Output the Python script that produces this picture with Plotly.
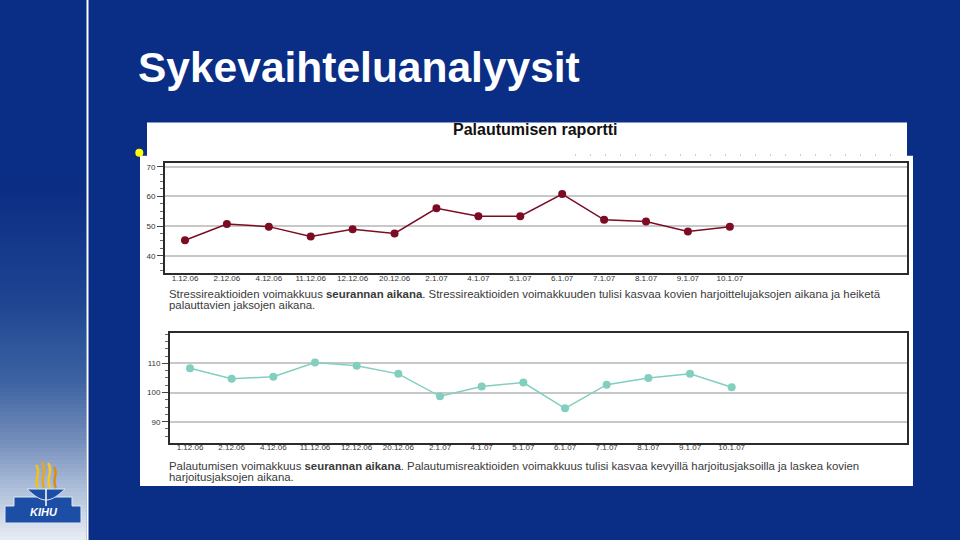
import plotly.graph_objects as go
import math

# ---------------- data ----------------
dates = ["1.12.06", "2.12.06", "4.12.06", "11.12.06", "12.12.06", "20.12.06", "2.1.07",
         "4.1.07", "5.1.07", "6.1.07", "7.1.07", "8.1.07", "9.1.07", "10.1.07"]
stress = [45.2, 50.7, 49.8, 46.5, 48.9, 47.5, 56.0, 53.3, 53.3, 60.8, 52.1, 51.5, 48.2, 49.8]
recovery = [108.3, 104.7, 105.4, 110.3, 109.2, 106.4, 98.7, 102.1, 103.4, 94.6, 102.7, 105.0, 106.4, 101.8]
stress_ticks = [40, 50, 60, 70]
recovery_ticks = [90, 100, 110]

slide_title = "Sykevaihteluanalyysit"
report_title = "Palautumisen raportti"
caption1 = ["Stressireaktioiden voimakkuus <b>seurannan aikana</b>. Stressireaktioiden voimakkuuden tulisi kasvaa kovien harjoittelujaksojen aikana ja heiketä",
            "palauttavien jaksojen aikana."]
caption2 = ["Palautumisen voimakkuus <b>seurannan aikana</b>. Palautumisreaktioiden voimakkuus tulisi kasvaa kevyillä harjoitusjaksoilla ja laskea kovien",
            "harjoitusjaksojen aikana."]

# ---------------- helpers ----------------
W, H = 960, 540
def fx(p):
    return p / W
def fy(p):
    return 1 - p / H

BG = "#0a2d86"
FONT = "Liberation Sans, Arial, sans-serif"

fig = go.Figure()

fig.add_trace(go.Scatter(x=dates, y=stress, mode="lines+markers",
                         line=dict(color="#7b0c24", width=1.5),
                         marker=dict(color="#7b0c24", size=8),
                         xaxis="x", yaxis="y", showlegend=False))
fig.add_trace(go.Scatter(x=dates, y=recovery, mode="lines+markers",
                         line=dict(color="#82cfc0", width=1.5),
                         marker=dict(color="#82cfc0", size=8),
                         xaxis="x2", yaxis="y2", showlegend=False))

shapes = []

# left gradient strip
stops = [(0, (10, 45, 134)), (190, (12, 45, 132)), (300, (30, 68, 146)), (380, (60, 98, 162)),
         (440, (115, 140, 186)), (490, (175, 192, 218)), (540, (232, 237, 244))]
def col_at(y):
    for (y0, c0), (y1, c1) in zip(stops[:-1], stops[1:]):
        if y0 <= y <= y1:
            t = (y - y0) / (y1 - y0)
            return "rgb(%d,%d,%d)" % tuple(round(a + (b - a) * t) for a, b in zip(c0, c1))
    return "rgb(%d,%d,%d)" % stops[-1][1]
step = 4
yy = 180
while yy < 540:
    shapes.append(dict(type="rect", xref="paper", yref="paper", x0=fx(0), x1=fx(86.5),
                       y0=fy(yy + step + 0.5), y1=fy(yy), fillcolor=col_at(yy + step / 2),
                       line=dict(width=0), layer="below"))
    yy += step
# white divider line
shapes.append(dict(type="line", xref="paper", yref="paper", x0=fx(87.5), x1=fx(87.5),
                   y0=fy(0), y1=fy(540), line=dict(color="white", width=2), layer="below"))

# logo (approximation)
def path(pts, close=True):
    s = "M " + " L ".join("%f,%f" % (fx(a), fy(b)) for a, b in pts)
    return s + (" Z" if close else "")
plat = [(5, 523), (5, 506), (14, 506), (14, 497), (72, 497), (72, 506), (81, 506), (81, 523)]
shapes.append(dict(type="path", xref="paper", yref="paper", path=path(plat),
                   fillcolor="#1d4ea5", line=dict(color="#dfe8f5", width=1), layer="below"))
bowl = [(27 + 38 * i / 20, 489 + 11 * math.sin(math.pi * i / 20)) for i in range(21)]
shapes.append(dict(type="path", xref="paper", yref="paper", path=path(bowl),
                   fillcolor="#1d4ea5", line=dict(color="#dfe8f5", width=1), layer="below"))
shapes.append(dict(type="line", xref="paper", yref="paper", x0=fx(46), x1=fx(46), y0=fy(506), y1=fy(489),
                   line=dict(color="white", width=1.5), layer="below"))
flames = [
    ([(38, 488), (33, 480), (42, 472), (36, 465)], "#f2c21a"),
    ([(44, 488), (39, 479), (48, 471), (42, 462)], "#e9a51b"),
    ([(50, 488), (45, 479), (54, 471), (48, 463)], "#f4c829"),
    ([(56, 488), (51, 480), (59, 473), (54, 467)], "#d98d17"),
]
for pts, c in flames:
    p = "M %f,%f C %f,%f %f,%f %f,%f" % (fx(pts[0][0]), fy(pts[0][1]), fx(pts[1][0]), fy(pts[1][1]),
                                         fx(pts[2][0]), fy(pts[2][1]), fx(pts[3][0]), fy(pts[3][1]))
    shapes.append(dict(type="path", xref="paper", yref="paper", path=p,
                       line=dict(color=c, width=2.5), layer="below"))

# white panels
shapes.append(dict(type="rect", xref="paper", yref="paper", x0=fx(147), x1=fx(907), y0=fy(156), y1=fy(122.5),
                   fillcolor="white", line=dict(width=0), layer="below"))
shapes.append(dict(type="rect", xref="paper", yref="paper", x0=fx(140), x1=fx(913), y0=fy(486), y1=fy(155.7),
                   fillcolor="white", line=dict(width=0), layer="below"))
# dotted line under report title
shapes.append(dict(type="line", xref="paper", yref="paper", x0=fx(575), x1=fx(905), y0=fy(155), y1=fy(155),
                   line=dict(color="#9a9a9a", width=1.2, dash="1px,14px"), layer="below"))
# yellow bullet
shapes.append(dict(type="circle", xref="paper", yref="paper", x0=fx(135.3), x1=fx(143.3),
                   y0=fy(156.7), y1=fy(148.7), fillcolor="#ffff00", line=dict(width=0), layer="above"))

annotations = [
    dict(text=slide_title, xref="paper", yref="paper", x=fx(135.5), y=fy(68), xanchor="left", yanchor="middle",
         showarrow=False, font=dict(family=FONT, size=42.5, color="white", weight="bold")),
    dict(text="<b>" + report_title + "</b>", xref="paper", yref="paper", x=fx(535), y=fy(130),
         xanchor="center", yanchor="middle", showarrow=False, font=dict(family=FONT, size=16, color="#111")),
    dict(text="KIHU", xref="paper", yref="paper", x=fx(44), y=fy(512), xanchor="center", yanchor="middle",
         showarrow=False, font=dict(family=FONT, size=11, color="white", weight="bold", style="italic")),
]
for i, line in enumerate(caption1):
    annotations.append(dict(text=line, xref="paper", yref="paper", x=fx(167), y=fy(293.5 + 11.3 * i),
                            xanchor="left", yanchor="middle", showarrow=False,
                            font=dict(family=FONT, size=11.4, color="#3a3a3a")))
for i, line in enumerate(caption2):
    annotations.append(dict(text=line, xref="paper", yref="paper", x=fx(167), y=fy(465.5 + 11.3 * i),
                            xanchor="left", yanchor="middle", showarrow=False,
                            font=dict(family=FONT, size=11.4, color="#3a3a3a")))

xcommon = dict(type="category", showline=True, mirror=True, linecolor="#2b2b2b", linewidth=2,
               showgrid=False, ticks="", tickfont=dict(family=FONT, size=8, color="#333"),
               tickvals=dates, ticktext=dates, zeroline=False, ticklabelstandoff=-4)
ycommon = dict(showline=True, mirror=True, linecolor="#2b2b2b", linewidth=2,
               showgrid=True, gridcolor="#c8c8c8", gridwidth=1.5, zeroline=False,
               ticks="outside", ticklen=6, tickcolor="#444", tickwidth=1,
               tickfont=dict(family=FONT, size=8, color="#333"),
               minor=dict(dtick=2.5, ticks="outside", ticklen=3, tickcolor="#666", showgrid=False))

fig.update_layout(
    width=W, height=H, margin=dict(l=0, r=0, t=0, b=0),
    paper_bgcolor=BG, plot_bgcolor="white",
    xaxis=dict(xcommon, domain=[fx(165), fx(906.7)], range=[-0.477, 17.22], anchor="y"),
    yaxis=dict(ycommon, domain=[fy(273.3), fy(163.3)], range=[34.07, 71.15], tickvals=stress_ticks,
               anchor="x", minor=dict(ycommon["minor"], tick0=40)),
    xaxis2=dict(xcommon, domain=[fx(170), fx(906.7)], range=[-0.48, 17.2], anchor="y2"),
    yaxis2=dict(ycommon, domain=[fy(442.7), fy(333.3)], range=[82.8, 120.3], tickvals=recovery_ticks,
                anchor="x2", minor=dict(ycommon["minor"], tick0=90)),
    shapes=shapes, annotations=annotations, showlegend=False,
)

fig.write_html("out.html", config={"displayModeBar": False},
               post_script="document.body.style.margin='0';document.body.style.overflow='hidden';")
